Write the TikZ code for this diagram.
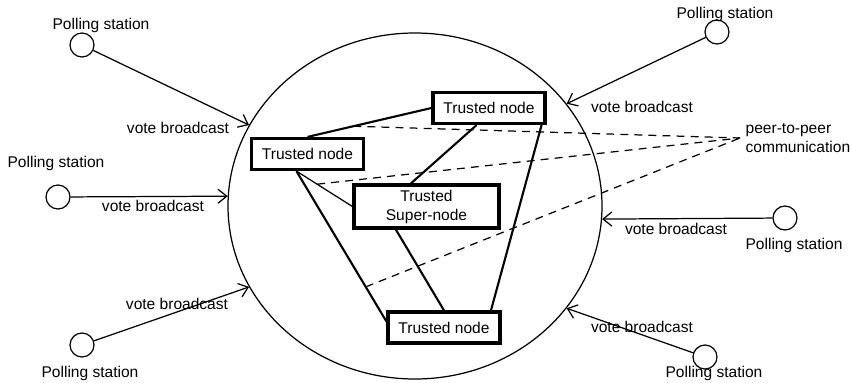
\documentclass[tikz,border=0pt]{standalone}
\usepackage{fontspec}
\setmainfont{Liberation Sans}
\usetikzlibrary{positioning, shapes.geometric, arrows.meta, calc}

\tikzset{
  station/.style={circle, draw, line width=0.7pt, minimum size=0.48cm, inner sep=0pt},
  trusted/.style={draw, line width=1.8pt, minimum width=2.24cm, minimum height=0.62cm, inner sep=1pt, align=center},
  link/.style={line width=1.2pt},
  thinlink/.style={line width=0.7pt},
  p2plink/.style={line width=0.7pt, dash pattern=on 4.5pt off 3.5pt},
  broadcast/.style={line width=0.7pt, -{Straight Barb[length=5pt,width=8pt]}},
}

\begin{document}
\begin{tikzpicture}[every node/.style={font=\fontsize{8.85}{10.8}\selectfont}]
    \useasboundingbox (0,0) rectangle (17.04,7.64);

    % Network area
    \node[ellipse, draw, line width=0.7pt, minimum width=7.48cm, minimum height=6.92cm, inner sep=0pt] (area) at (8.30,3.52) {};

    % Trusted nodes
    \node[trusted] (trustTop) at (9.78,5.48) {Trusted node};
    \node[trusted] (trustLeft) at (6.15,4.56) {Trusted node};
    \node[trusted, minimum width=2.90cm, minimum height=0.86cm] (superNode) at (8.53,3.51) {Trusted\\Super-node};
    \node[trusted] (trustBottom) at (8.88,1.09) {Trusted node};

    % Links between trusted nodes
    \draw[link] (trustLeft.north) -- coordinate[pos=0.37] (d1) (trustTop.west);
    \draw[link] (trustTop.234) -- (superNode.124);
    \draw[link] (trustTop.342) -- (trustBottom.20);
    \draw[link] (trustLeft.237) -- coordinate[pos=0.77] (d3) (trustBottom.174);
    \draw[link] (superNode.217) -- (trustBottom.north);
    \draw[thinlink] (trustLeft.237) -- coordinate[pos=0.37] (d2) (superNode.west);

    % Peer-to-peer
    \node[anchor=west, align=left, inner sep=3pt] (p2p) at (14.80,4.88) {peer-to-peer\\communication};
    \foreach \d in {d1,d2,d3}
        \draw[p2plink] (\d) -- (p2p.west);

    % Polling stations
    \node[station] (ps1) at (1.64,6.74) {};
    \node[station] (ps2) at (14.34,7.00) {};
    \node[station] (ps3) at (1.16,3.70) {};
    \node[station] (ps4) at (1.64,0.74) {};
    \node[station] (ps5) at (15.70,3.28) {};
    \node[station] (ps6) at (14.10,0.50) {};

    \node (ps1name) at (2.02,7.14) {Polling station};
    \node (ps2name) at (14.50,7.36) {Polling station};
    \node (ps3name) at (1.12,4.38) {Polling station};
    \node (ps4name) at (1.80,0.18) {Polling station};
    \node (ps5name) at (15.88,2.74) {Polling station};
    \node (ps6name) at (14.28,0.18) {Polling station};

    % Vote broadcasts
    \draw[broadcast] (ps1) -- (area.154);
    \draw[broadcast] (ps2) -- (area.34);
    \draw[broadcast] (ps3) -- (area.177);
    \draw[broadcast] (ps4) -- (area.206);
    \draw[broadcast] (ps5) -- (area.356);
    \draw[broadcast] (ps6) -- (area.326);

    \node (vb1) at (3.56,5.08) {vote broadcast};
    \node (vb2) at (12.84,5.50) {vote broadcast};
    \node (vb3) at (3.06,3.52) {vote broadcast};
    \node (vb4) at (3.54,1.56) {vote broadcast};
    \node (vb5) at (13.52,3.06) {vote broadcast};
    \node (vb6) at (12.84,1.10) {vote broadcast};
\end{tikzpicture}
\end{document}
